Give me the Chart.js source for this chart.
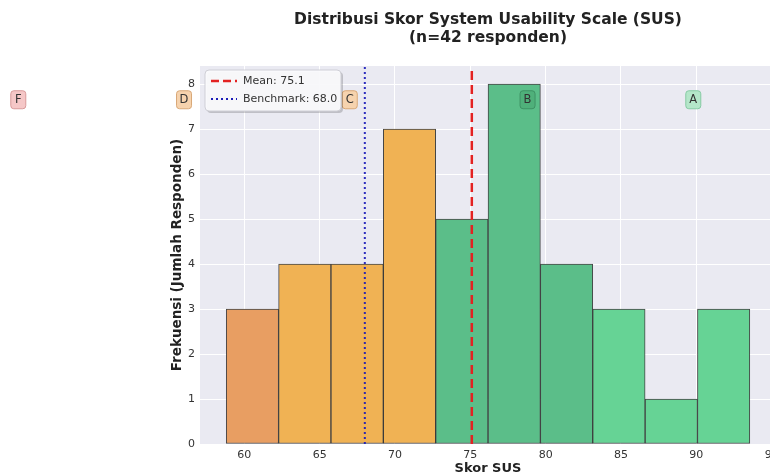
<!DOCTYPE html>
<html>
<head>
<meta charset="utf-8">
<script src="https://cdn.jsdelivr.net/npm/chart.js@4.4.1/dist/chart.umd.min.js"></script>
<style>
  html, body { margin: 0; padding: 0; background: #fff; overflow: hidden; }
  #wrap { width: 976px; height: 476px; }
</style>
</head>
<body>
<div id="wrap"><canvas id="sus_chart" width="976" height="476"></canvas></div>
<script>
// data
const binEdges = [58.8, 62.28, 65.75, 69.23, 72.7, 76.18, 79.65, 83.13, 86.6, 90.08, 93.55];
const binCounts = [3, 4, 4, 7, 5, 8, 4, 3, 1, 3];
const binColors = ["#E89E62", "#F0B254", "#F0B254", "#F0B254", "#5BBE89", "#5BBE89", "#5BBE89", "#66D395", "#66D395", "#66D395"];
const meanScore = 75.1;
const benchmarkScore = 68.0;
const xTicks = [60, 65, 70, 75, 80, 85, 90, 95];
const yTicks = [0, 1, 2, 3, 4, 5, 6, 7, 8];
const gradeLetters = ["F", "D", "C", "B", "A"];
const gradePos = [45.0, 56.0, 67.0, 78.8, 89.8];
const gradeFill = ["#F5C7C7", "#F6D3AE", "#F6D3AE", "#4FB07A", "#B4E6C9"];
const gradeBorder = ["#D99A9A", "#D9A877", "#D9A877", "#3E9264", "#86CBA4"];
const titleLines = ["Distribusi Skor System Usability Scale (SUS)", "(n=42 responden)"];
const xMin = 57.06, xMax = 95.29, yMax = 8.4, gradeY = 7.65;

const FONT = "DejaVu Sans";

// bin centers for the bars
let bars = [];
for (let i = 0; i < binCounts.length; i++) {
	bars.push({ x: (binEdges[i] + binEdges[i + 1]) / 2, y: binCounts[i] });
}

// plot background
const bgPlugin = {
	id: "bg",
	beforeDraw(chart) {
		const { ctx, chartArea } = chart;
		ctx.save();
		ctx.fillStyle = "#EAEAF2";
		ctx.fillRect(chartArea.left, chartArea.top, chartArea.right - chartArea.left, chartArea.bottom - chartArea.top);
		ctx.restore();
	},
};

function roundBox(ctx, x, y, w, h, r) {
	ctx.beginPath();
	ctx.moveTo(x + r, y);
	ctx.lineTo(x + w - r, y);
	ctx.quadraticCurveTo(x + w, y, x + w, y + r);
	ctx.lineTo(x + w, y + h - r);
	ctx.quadraticCurveTo(x + w, y + h, x + w - r, y + h);
	ctx.lineTo(x + r, y + h);
	ctx.quadraticCurveTo(x, y + h, x, y + h - r);
	ctx.lineTo(x, y + r);
	ctx.quadraticCurveTo(x, y, x + r, y);
	ctx.closePath();
}

// title, grade boxes + legend
const extrasPlugin = {
	id: "extras",
	afterDraw(chart) {
		const { ctx, chartArea } = chart;
		const xs = chart.scales.x, ys = chart.scales.y;
		ctx.save();

		// title centred over the plot
		const cx = (chartArea.left + chartArea.right) / 2;
		ctx.fillStyle = "#222";
		ctx.textAlign = "center";
		ctx.textBaseline = "middle";
		ctx.font = "bold 15.5px '" + FONT + "'";
		titleLines.forEach((t, i) => ctx.fillText(t, cx, 20 + i * 18));

		ctx.font = "11.5px '" + FONT + "'";
		gradeLetters.forEach((g, i) => {
			const px = xs.getPixelForValue(gradePos[i]);
			const py = ys.getPixelForValue(gradeY);
			roundBox(ctx, px - 7.5, py - 9, 15, 18, 3);
			ctx.fillStyle = gradeFill[i];
			ctx.fill();
			ctx.strokeStyle = gradeBorder[i];
			ctx.lineWidth = 1;
			ctx.stroke();
			ctx.fillStyle = "#333";
			ctx.fillText(g, px, py + 0.5);
		});

		// legend box
		const lx = chartArea.left + 5, ly = chartArea.top + 4, lw = 136, lh = 41;
		ctx.fillStyle = "rgba(0,0,0,0.18)";
		roundBox(ctx, lx + 2, ly + 2, lw, lh, 4);
		ctx.fill();
		ctx.fillStyle = "rgba(250,250,252,0.95)";
		roundBox(ctx, lx, ly, lw, lh, 4);
		ctx.fill();
		ctx.strokeStyle = "#CFCFD6";
		ctx.stroke();

		ctx.lineWidth = 2.5;
		ctx.strokeStyle = "#E32222";
		ctx.setLineDash([8, 4]);
		ctx.beginPath();
		ctx.moveTo(lx + 6, ly + 11);
		ctx.lineTo(lx + 32, ly + 11);
		ctx.stroke();
		ctx.lineWidth = 2;
		ctx.strokeStyle = "#1C1CB8";
		ctx.setLineDash([2, 3]);
		ctx.beginPath();
		ctx.moveTo(lx + 6, ly + 29);
		ctx.lineTo(lx + 32, ly + 29);
		ctx.stroke();
		ctx.setLineDash([]);

		ctx.fillStyle = "#333";
		ctx.textAlign = "left";
		ctx.font = "11px '" + FONT + "'";
		ctx.fillText("Mean: " + meanScore.toFixed(1), lx + 38, ly + 11);
		ctx.fillText("Benchmark: " + benchmarkScore.toFixed(1), lx + 38, ly + 29);
		ctx.restore();
	},
};

const ctx = document.getElementById("sus_chart").getContext("2d");
const my_chart = new Chart(ctx, {
	type: "bar",
	data: {
		datasets: [
			{
				type: "line",
				label: "Mean: " + meanScore.toFixed(1),
				data: [{ x: meanScore, y: 0 }, { x: meanScore, y: yMax }],
				borderColor: "#E32222",
				borderWidth: 2.5,
				borderDash: [9, 5],
				pointRadius: 0,
				order: 0,
			},
			{
				type: "line",
				label: "Benchmark: " + benchmarkScore.toFixed(1),
				data: [{ x: benchmarkScore, y: 0 }, { x: benchmarkScore, y: yMax }],
				borderColor: "rgba(24,24,184,0.9)",
				borderWidth: 2,
				borderDash: [2, 3],
				pointRadius: 0,
				order: 0,
			},
			{
				label: "Skor",
				data: bars,
				backgroundColor: binColors,
				borderColor: "rgba(40,40,40,0.85)",
				borderWidth: 1,
				borderSkipped: false,
				barPercentage: 1,
				categoryPercentage: 1,
				order: 1,
			},
		],
	},
	options: {
		responsive: false,
		animation: false,
		devicePixelRatio: 1,
		layout: { padding: { left: 160, right: 200, top: 66, bottom: 0 } },
		plugins: {
			legend: { display: false },
			tooltip: { enabled: false },
			title: { display: false },
		},
		scales: {
			x: {
				type: "linear",
				offset: false,
				min: xMin,
				max: xMax,
				afterBuildTicks: (scale) => { scale.ticks = xTicks.map((v) => ({ value: v })); },
				afterFit: (scale) => { scale.height = 32; },
				grid: { color: "#FFFFFF", lineWidth: 1, drawTicks: false, offset: false },
				border: { display: false },
				ticks: { color: "#333", padding: 5, font: { family: FONT, size: 11 } },
				title: { display: true, text: "Skor SUS", color: "#222", font: { family: FONT, size: 13, weight: "bold" }, padding: 0 },
			},
			y: {
				min: 0,
				max: yMax,
				afterBuildTicks: (scale) => { scale.ticks = yTicks.map((v) => ({ value: v })); },
				afterFit: (scale) => { scale.width = 40; },
				grid: { color: "#FFFFFF", lineWidth: 1, drawTicks: false },
				border: { display: false },
				ticks: { color: "#333", padding: 5, font: { family: FONT, size: 11 } },
				title: { display: true, text: "Frekuensi (Jumlah Responden)", color: "#222", font: { family: FONT, size: 13.5, weight: "bold" }, padding: { top: 9, bottom: 0 } },
			},
		},
	},
	plugins: [bgPlugin, extrasPlugin],
});
</script>
</body>
</html>
